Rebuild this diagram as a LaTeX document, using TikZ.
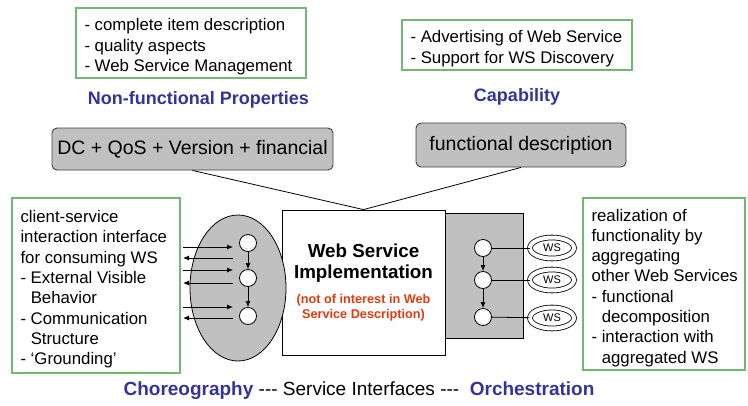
\documentclass[tikz,border=0pt]{standalone}
\usepackage{fontspec}
\setmainfont{Liberation Sans}
\usetikzlibrary{arrows.meta,shapes.geometric}
\definecolor{boxgray}{HTML}{C0C0C0}
\definecolor{notegreen}{HTML}{72B872}
\definecolor{headblue}{HTML}{333399}
\definecolor{notered}{HTML}{E03C10}
\newcommand{\indentdash}{\hphantom{-\ }}
% left-aligned lines, set without line breaking, in a box of fixed width,
% drawn slightly below the centre of their frame
\newcommand{\notelines}[2]{\makebox[#1][l]{\raisebox{-4pt}[\height][\depth]{\begin{tabular}{@{}l@{}}#2\end{tabular}}}}
\begin{document}
\begin{tikzpicture}[x=1pt,y=-1pt,
  note/.style={draw=notegreen,line width=1.1pt,fill=white,inner xsep=8.5pt,inner ysep=0pt,
    font=\fontsize{16.8}{20.3}\selectfont},
  heading/.style={text=headblue,font=\fontsize{18}{20}\selectfont\bfseries},
  descbox/.style={draw=black!75,line width=0.9pt,fill=boxgray,rounded corners=5pt,
    inner sep=0pt,font=\fontsize{19.5}{22}\selectfont},
  state/.style={circle,draw=black,line width=0.8pt,fill=white,minimum size=17pt,inner sep=0pt},
  wsnode/.style={ellipse,draw=black,double=white,double distance=4pt,line width=0.8pt,
    fill=white,minimum width=44pt,minimum height=21pt,inner sep=0pt,
    font=\fontsize{11}{12}\selectfont},
  flow/.style={-{Latex[length=6pt,width=5pt]},line width=0.8pt},
  link/.style={line width=0.8pt},
]
\useasboundingbox (0,0) rectangle (748,405);

% non-functional properties
\node[note,minimum height=70pt] (nfnote) at (191,43)
  {\notelines{213pt}{- complete item description\\- quality aspects\\- Web Service Management}};
\node[heading] (nflabel) at (198.5,100) {Non-functional Properties};
\node[descbox,minimum width=281pt,minimum height=42pt] (nfdesc) at (192.5,149)
  {DC + QoS + Version + financial};

% capability
\node[note,minimum height=50pt] (capnote) at (517,45)
  {\notelines{213pt}{- Advertising of Web Service\\- Support for WS Discovery}};
\node[heading] (caplabel) at (517,97) {Capability};
\node[descbox,minimum width=210pt,minimum height=44pt] (capdesc) at (521,145)
  {functional description};

% orchestration block behind the implementation
\node[draw=black,line width=0.8pt,fill=boxgray,minimum width=80pt,minimum height=125pt,inner sep=0pt]
  (orch) at (483,275.5) {};

% web service implementation
\node[draw=black,line width=0.8pt,fill=white,minimum width=163pt,minimum height=145pt,
  inner sep=0pt,align=center,font=\fontsize{18.8}{21}\selectfont\bfseries] (impl) at (363.5,282.5)
  {Web Service\\Implementation\\[4pt]
   \color{notered}\fontsize{12.7}{14.5}\selectfont (not of interest in Web\\[-6pt]
   \color{notered}\fontsize{12.7}{14.5}\selectfont Service Description)};

\draw[link] (nfdesc.south) -- (impl.north) -- (capdesc.south);

% choreography
\node[ellipse,draw=black,line width=0.8pt,fill=boxgray,minimum width=96pt,minimum height=146pt,inner sep=0pt]
  (chor) at (238,288) {};
\node[state] (c1) at (248,243) {};
\node[state] (c2) at (248,278) {};
\node[state] (c3) at (248,316) {};
\draw[flow] (c1) -- (c2);
\draw[flow] (c2) -- (c3);

\foreach \i/\yin/\yout in {1/247/258,2/270/283,3/307/318}{
  \coordinate (inA\i) at (183,\yin);  \coordinate (inB\i) at (233,\yin);
  \coordinate (outA\i) at (233,\yout); \coordinate (outB\i) at (183,\yout);
  \draw[flow] (inA\i) -- (inB\i);
  \draw[flow] (outA\i) -- (outB\i);
}

% orchestration states and aggregated services
\node[state] (o1) at (483,248) {};
\node[state] (o2) at (483,280) {};
\node[state] (o3) at (483,317) {};
\draw[flow] (o1) -- (o2);
\draw[flow] (o2) -- (o3);
\node[wsnode] (ws1) at (552,248) {WS};
\node[wsnode] (ws2) at (552,280) {WS};
\node[wsnode] (ws3) at (552,318) {WS};
\draw[link] (o1) -- (ws1);
\draw[link] (o2) -- (ws2);
\draw[link] (o3) -- (ws3);

% side notes
\node[note,minimum height=175pt] (chornote) at (96,285.5)
  {\notelines{151pt}{client-service\\interaction interface\\for consuming WS\\- External Visible\\\indentdash Behavior\\- Communication\\\indentdash Structure\\- `Grounding'}};
\node[note,minimum height=172pt] (orchnote) at (664,284)
  {\notelines{145pt}{realization of\\functionality by\\aggregating\\other Web Services\\- functional\\\indentdash decomposition\\- interaction with\\\indentdash aggregated WS}};

% bottom caption
\node[font=\fontsize{19}{20}\selectfont] (caption) at (359,391)
  {{\color{headblue}\bfseries Choreography} -{}-{}- Service Interfaces -{}-{}-\ \ {\color{headblue}\bfseries Orchestration}};
\end{tikzpicture}
\end{document}
